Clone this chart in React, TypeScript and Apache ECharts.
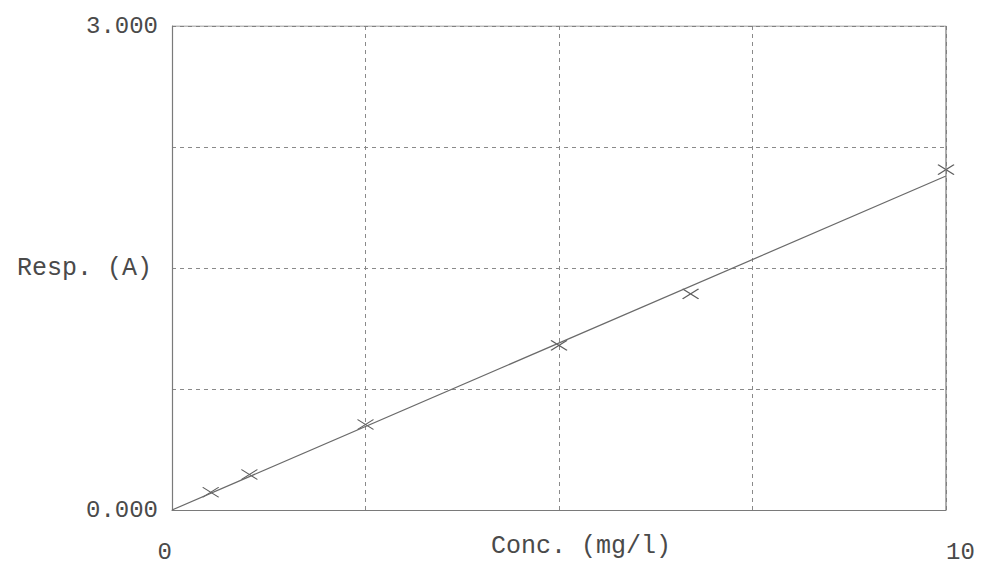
import React, { useEffect, useRef } from "react";
import * as echarts from "echarts";

const concValues = [0.5, 1.0, 2.5, 5.0, 6.7, 10.0];
const respValues = [0.11, 0.22, 0.53, 1.02, 1.34, 2.11];
const fitX = [0, 10];
const fitY = [0, 2.07];
const xTickLabels = ["0", "10"];
const yTickLabels = ["0.000", "3.000"];

const FONT = "'Liberation Mono', 'DejaVu Sans Mono', monospace";
const TXT = "#4a4a4a";
const BORDER = "#7a7a7a";

export default function App() {
  const ref = useRef<HTMLDivElement>(null);
  useEffect(() => {
    if (!ref.current) return;
    const chart = echarts.init(ref.current, null, { renderer: "svg" });
    chart.setOption({
      animation: false,
      backgroundColor: "#ffffff",
      grid: { left: 164, right: 43, top: 18, bottom: 65, outerBoundsMode: "none", containLabel: false },
      xAxis: {
        type: "value",
        min: 0,
        max: 10,
        interval: 2.5,
        name: "Conc. (mg/l)",
        nameLocation: "middle",
        nameGap: 24,
        nameMoveOverlap: false,
        nameTextStyle: { fontFamily: FONT, fontSize: 25, color: TXT, padding: [0, 0, 0, 44] },
        axisLine: { show: true, lineStyle: { color: BORDER, width: 1.2 } },
        axisTick: { show: false },
        axisLabel: {
          fontFamily: FONT,
          fontSize: 24,
          color: TXT,
          margin: 30,
          alignMinLabel: "right",
          alignMaxLabel: "left",
          formatter: (v: number) => (v === 0 ? xTickLabels[0] : v === 10 ? xTickLabels[1] : ""),
        },
        splitLine: { show: true, lineStyle: { type: [4, 4], color: "#8a8a8a", width: 1 } },
      },
      yAxis: {
        type: "value",
        min: 0,
        max: 3,
        interval: 0.75,
        name: "Resp. (A)",
        nameLocation: "middle",
        nameRotate: 0,
        nameGap: 20,
        nameMoveOverlap: false,
        nameTextStyle: { fontFamily: FONT, fontSize: 25, color: TXT, padding: [0, 0, 8, 0] },
        axisLine: { show: true, lineStyle: { color: BORDER, width: 1.2 } },
        axisTick: { show: false },
        axisLabel: {
          fontFamily: FONT,
          fontSize: 24,
          color: TXT,
          margin: 14,
          formatter: (v: number) => (v === 0 ? yTickLabels[0] : v === 3 ? yTickLabels[1] : ""),
        },
        splitLine: { show: true, lineStyle: { type: [4, 4], color: "#8a8a8a", width: 1 } },
      },
      series: [
        {
          type: "line",
          data: fitX.map((x, i) => [x, fitY[i]]),
          showSymbol: false,
          lineStyle: { color: "#6a6a6a", width: 1.2 },
          silent: true,
        },
        {
          type: "scatter",
          data: concValues.map((x, i) => [x, respValues[i]]),
          symbol: "path://M0,0L16,10M16,0L0,10",
          symbolSize: [16, 10],
          itemStyle: { color: "none", borderColor: "#333333", borderWidth: 1.2 },
        },
        {
          type: "line",
          data: [[0, 3], [10, 3], [10, 0]],
          showSymbol: false,
          lineStyle: { color: BORDER, width: 1.2 },
          silent: true,
        },
      ],
    });
    return () => chart.dispose();
  }, []);
  return <div ref={ref} style={{ width: 981, height: 567 }} />;
}
